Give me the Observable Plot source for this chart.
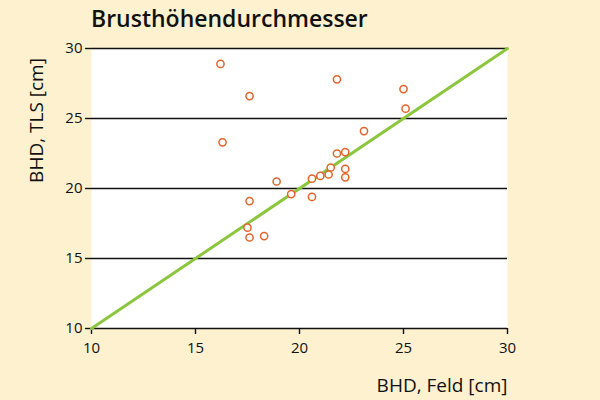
<!DOCTYPE html>
<html>
<head>
<meta charset="utf-8">
<script src="https://cdn.jsdelivr.net/npm/d3@7"></script>
<script src="https://cdn.jsdelivr.net/npm/@observablehq/plot@0.6"></script>
<style>
  html, body { margin: 0; padding: 0; background: #fdf1d0; }
  #wrap { width: 600px; height: 400px; background: #fdf1d0; position: relative; overflow: hidden; }
  #title { font-family: "Open Sans", "Noto Sans", sans-serif; font-weight: 600; font-size: 23px; color: #111;
           height: 30px; line-height: 36px; padding-left: 91px; box-sizing: border-box; overflow: visible; white-space: nowrap; }
</style>
</head>
<body>
<div id="wrap">
  <div id="title">Brusthöhendurchmesser</div>
  <div id="chart"></div>
</div>
<script>
const bhdFeld = [16.2, 21.8, 17.6, 25.0, 25.1, 23.1, 16.3, 21.8, 22.2, 21.5, 22.2, 22.2, 21.4, 21.0, 20.6, 18.9, 19.6, 20.6, 17.6, 17.5, 17.6, 18.3];
const bhdTLS  = [28.9, 27.8, 26.6, 27.1, 25.7, 24.1, 23.3, 22.5, 22.6, 21.5, 21.4, 20.8, 21.0, 20.9, 20.7, 20.5, 19.6, 19.4, 19.1, 17.2, 16.5, 16.6];
const gridValues = [15, 20, 25, 30];
const tickValues = [10, 15, 20, 25, 30];
const identityLine = [10, 30];

const points = bhdFeld.map((x, i) => ({x, y: bhdTLS[i]}));

const chart = Plot.plot({
  width: 600,
  height: 370,
  marginTop: 18,
  marginBottom: 72,
  marginLeft: 91,
  marginRight: 93,
  style: { background: "transparent", fontFamily: "'Open Sans', 'Noto Sans', sans-serif", fontSize: "15px", color: "#111", overflow: "visible" },
  x: { domain: [10, 30], label: null },
  y: { domain: [10, 30], label: null },
  marks: [
    Plot.frame({ fill: "white", stroke: null }),
    Plot.ruleY(gridValues, { stroke: "#111", strokeWidth: 1.6 }),
    Plot.ruleY([10], { stroke: "#111", strokeWidth: 1.6 }),
    Plot.axisX({ ticks: tickValues, tickSize: 6, tickPadding: 8, stroke: "#111", strokeWidth: 1.4, label: null, fontSize: 15 }),
    Plot.axisY({ ticks: tickValues, tickSize: 6, tickPadding: 3, stroke: "#111", strokeWidth: 1.4, label: null, fontSize: 15 }),
    Plot.line(identityLine, { x: d => d, y: d => d, stroke: "#8cc63e", strokeWidth: 3 }),
    Plot.dot(points, { x: "x", y: "y", r: 3.6, stroke: "#e0642a", strokeWidth: 1.5, fill: "white" }),
    Plot.text(["BHD, TLS [cm]"], { frameAnchor: "top-left", rotate: -90, dx: -55, dy: 72, textAnchor: "middle", lineAnchor: "middle", fontSize: 19, fill: "#111" }),
    Plot.text(["BHD, Feld [cm]"], { frameAnchor: "bottom-right", dx: 0, dy: 57, textAnchor: "end", lineAnchor: "middle", fontSize: 19, fill: "#111" })
  ]
});
document.getElementById("chart").appendChild(chart);
</script>
</body>
</html>
